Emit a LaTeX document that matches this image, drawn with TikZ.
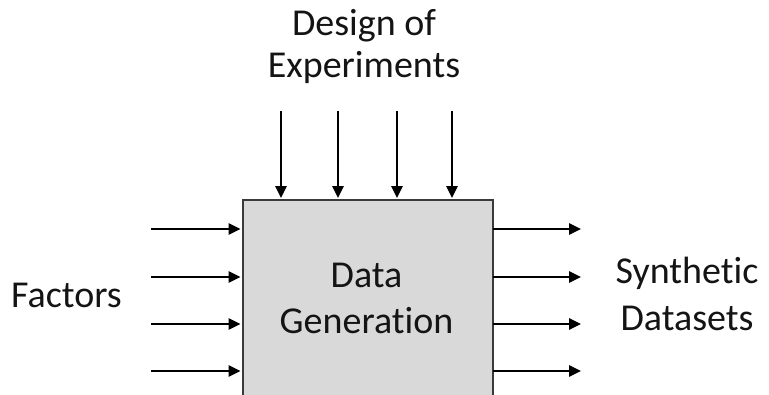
\documentclass[tikz,border=0pt]{standalone}
\usepackage{fontspec}
\setmainfont{Carlito}[Ligatures=NoCommon]
\usetikzlibrary{arrows.meta}
\definecolor{boxfill}{HTML}{D9D9D9}
\definecolor{boxline}{HTML}{3A3A3A}
\definecolor{txt}{HTML}{141414}
\tikzset{
  flow/.style={line width=2.6pt, draw=black, -{Triangle[length=12pt,width=11pt]}},
  lbl/.style={font=\fontsize{38}{44}\selectfont, text=txt, align=center, inner sep=0pt},
  blk/.style={draw=boxline, fill=boxfill, line width=2pt}
}
\begin{document}
\begin{tikzpicture}[x=1pt,y=-1pt]
\useasboundingbox (0,0) rectangle (769,394);
\clip (0,0) rectangle (769,394);
\node[blk, minimum width=250pt, minimum height=240pt, anchor=north west, inner sep=0pt] (box) at (241.5,199) {};
\node[lbl, anchor=base] (dg) at (366.5,287) {Data};
\node[lbl, anchor=base] (gen) at (366.5,333) {Generation};
\node[lbl, anchor=base] (doe1) at (364,35) {Design of};
\node[lbl, anchor=base] (doe2) at (364,77) {Experiments};
\node[lbl, anchor=base west] (fac) at (11,307) {Factors};
\node[lbl, anchor=base] (syn1) at (687,283) {Synthetic};
\node[lbl, anchor=base] (syn2) at (687,330) {Datasets};
\foreach \i/\x in {1/281,2/338,3/397,4/452} {
  \coordinate (t\i) at (\x,111);
  \coordinate (tb\i) at (\x,198);
  \draw[flow] (t\i) -- (tb\i);
}
\foreach \i/\y in {1/229,2/277,3/324,4/371} {
  \coordinate (l\i) at (151,\y);
  \coordinate (lb\i) at (240.5,\y);
  \draw[flow] (l\i) -- (lb\i);
  \coordinate (rb\i) at (492.5,\y);
  \coordinate (r\i) at (581,\y);
  \draw[flow] (rb\i) -- (r\i);
}
\end{tikzpicture}
\end{document}
